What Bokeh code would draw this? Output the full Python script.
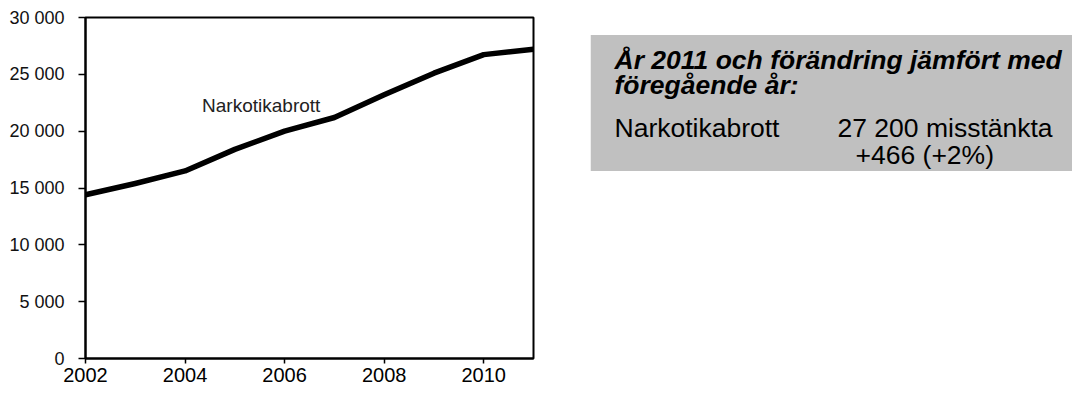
from bokeh.plotting import figure
from bokeh.models import Range1d, FixedTicker
from bokeh.layouts import row
from bokeh.core.properties import value
from bokeh.embed import file_html
from bokeh.resources import INLINE

# ---- data ----
years = [2002, 2003, 2004, 2005, 2006, 2007, 2008, 2009, 2010, 2011]
narkotikabrott = [14400, 15400, 16500, 18400, 20000, 21200, 23200, 25100, 26734, 27200]
series_name = "Narkotikabrott"

x_ticks = [2002, 2004, 2006, 2008, 2010]
x_tick_labels = ["2002", "2004", "2006", "2008", "2010"]
y_ticks = [0, 5000, 10000, 15000, 20000, 25000, 30000]
y_tick_labels = ["0", "5 000", "10 000", "15 000", "20 000", "25 000", "30 000"]

box_title_1 = "År 2011 och förändring jämfört med"
box_title_2 = "föregående år:"
box_cat = "Narkotikabrott"
box_value = "27 200 misstänkta"
box_change = "+466 (+2%)"

FONT = "Liberation Sans"

# ---- chart ----
p = figure(width=590, height=389, output_backend="svg", toolbar_location=None,
           x_range=Range1d(2002, 2011), y_range=Range1d(0, 30000),
           min_border_left=85, min_border_right=57, min_border_top=17, min_border_bottom=31)
p.background_fill_color = "white"
p.border_fill_color = "white"
p.outline_line_color = "black"
p.outline_line_width = 2
p.outline_line_alpha = 1
p.xgrid.visible = False
p.ygrid.visible = False

p.line(years, narkotikabrott, line_color="black", line_width=5.5, line_join="round")
p.text(x=[2005.53], y=[22300], text=[series_name], text_font=value(FONT),
       text_font_size="19px", text_color="#222222", text_align="center",
       text_baseline="alphabetic")

xa = p.xaxis[0]
xa.ticker = FixedTicker(ticks=x_ticks)
xa.major_label_overrides = dict(zip(x_ticks, x_tick_labels))
xa.axis_line_width = 2
xa.axis_line_color = "black"
xa.major_tick_in = 0
xa.major_tick_out = 5
xa.major_tick_line_width = 1.5
xa.minor_tick_line_color = None
xa.major_label_standoff = 4
xa.major_label_text_font = FONT
xa.major_label_text_font_size = "20px"
xa.major_label_text_color = "black"

ya = p.yaxis[0]
ya.ticker = FixedTicker(ticks=y_ticks)
ya.major_label_overrides = dict(zip(y_ticks, y_tick_labels))
ya.axis_line_width = 2
ya.axis_line_color = "black"
ya.major_tick_in = 0
ya.major_tick_out = 7
ya.major_tick_line_width = 1.5
ya.minor_tick_line_color = None
ya.major_label_standoff = 14
ya.major_label_text_font = FONT
ya.major_label_text_font_size = "18px"
ya.major_label_text_color = "#111111"

# ---- info box ----
q = figure(width=482, height=389, output_backend="svg", toolbar_location=None,
           x_range=Range1d(0, 482), y_range=Range1d(389, 0),
           min_border=0, min_border_left=0, min_border_right=0,
           min_border_top=0, min_border_bottom=0)
q.axis.visible = False
q.grid.visible = False
q.outline_line_color = None
q.background_fill_color = "white"
q.border_fill_color = "white"

q.quad(left=[0], right=[482], top=[20], bottom=[175], fill_color="#C0C0C0", line_color=None)
q.text(x=[24, 24], y=[49, 77], text=[box_title_1, box_title_2], text_font=value(FONT),
       text_font_size="26.5px", text_font_style="bold italic", text_color="black",
       text_baseline="alphabetic")
q.text(x=[24, 247, 265], y=[126, 126, 157], text=[box_cat, box_value, box_change],
       text_font=value(FONT), text_font_size="26.5px", text_color="black",
       text_baseline="alphabetic")

layout = row(p, q, spacing=0)
open("out.html", "w").write(file_html(layout, INLINE))
